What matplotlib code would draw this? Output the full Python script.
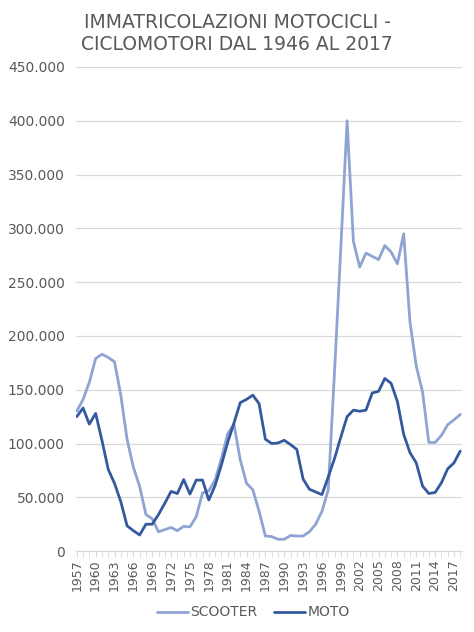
import matplotlib.pyplot as plt
from matplotlib.ticker import FuncFormatter, MultipleLocator

plt.rcParams['font.family'] = ['DejaVu Sans']

anni = list(range(1957, 2019))

scooter = [130000, 141000, 157000, 179000, 183000, 180000, 176000, 145000, 104000, 78000,
           60000, 34000, 30000, 18000, 20000, 22000, 19000, 23000, 22500, 32000,
           54000, 56000, 66000, 86000, 109000, 118000, 85000, 63000, 57000, 37000,
           14000, 13500, 11000, 11000, 14500, 14000, 14000, 18000, 25000, 37000,
           57000, 167000, 282000, 400000, 288000, 264000, 277000, 274000, 271000, 284000,
           278000, 267000, 295000, 213000, 172000, 148000, 101000, 101000, 107500, 117500,
           122000, 127000]

moto = [125000, 133000, 118000, 128000, 103000, 76000, 63000, 46000, 23500, 19000,
        15000, 25000, 25000, 34000, 44500, 55500, 53500, 66500, 53000, 66000,
        66000, 47500, 61000, 80000, 101000, 119000, 138000, 141000, 145000, 137000,
        104000, 100000, 100500, 103000, 99000, 94500, 67000, 57500, 55000, 52500,
        69000, 86000, 106000, 125000, 131000, 130000, 131000, 147000, 148500, 160500,
        156000, 139000, 108500, 91500, 82000, 60500, 53500, 54500, 63500, 76500,
        82000, 93000]

serie = ['SCOOTER', 'MOTO']
colori = ['#8FA4D2', '#35599E']

fig = plt.figure(figsize=(4.74, 6.32), dpi=100)
ax = fig.add_axes([0.160, 0.128, 0.815, 0.766])

ax.plot(anni, scooter, color=colori[0], lw=2.0, label=serie[0], solid_capstyle='round')
ax.plot(anni, moto, color=colori[1], lw=2.0, label=serie[1], solid_capstyle='round')

ax.set_ylim(0, 450000)
ax.set_xlim(1956.85, 2018.3)
ax.yaxis.set_major_locator(MultipleLocator(50000))
ax.yaxis.set_major_formatter(FuncFormatter(lambda v, p: '0' if v == 0 else f'{int(v):,}'.replace(',', '.')))
ax.grid(axis='y', color='#D9D9D9', lw=0.9)
ax.set_axisbelow(True)

ax.set_xticks(anni[::3])
ax.set_xticks(anni, minor=True)
ax.tick_params(axis='x', which='major', length=4, color='#D9D9D9', labelrotation=90,
               labelsize=9, labelcolor='#595959', pad=2)
ax.tick_params(axis='x', which='minor', length=4, color='#D9D9D9')
ax.tick_params(axis='y', length=0, labelsize=10, labelcolor='#595959', pad=8)

for s in ['top', 'right', 'left']:
    ax.spines[s].set_visible(False)
ax.spines['bottom'].set_color('#D9D9D9')

fig.suptitle('IMMATRICOLAZIONI MOTOCICLI -\nCICLOMOTORI DAL 1946 AL 2017',
             x=0.5, y=0.98, fontsize=13.5, color='#595959', linespacing=1.25)

fig.legend(loc='lower center', bbox_to_anchor=(0.535, 0.0), ncol=2, frameon=False,
           fontsize=10, labelcolor='#595959', handlelength=2.2, columnspacing=1.2,
           handletextpad=0.2)

fig.savefig('out.png', dpi=100)
